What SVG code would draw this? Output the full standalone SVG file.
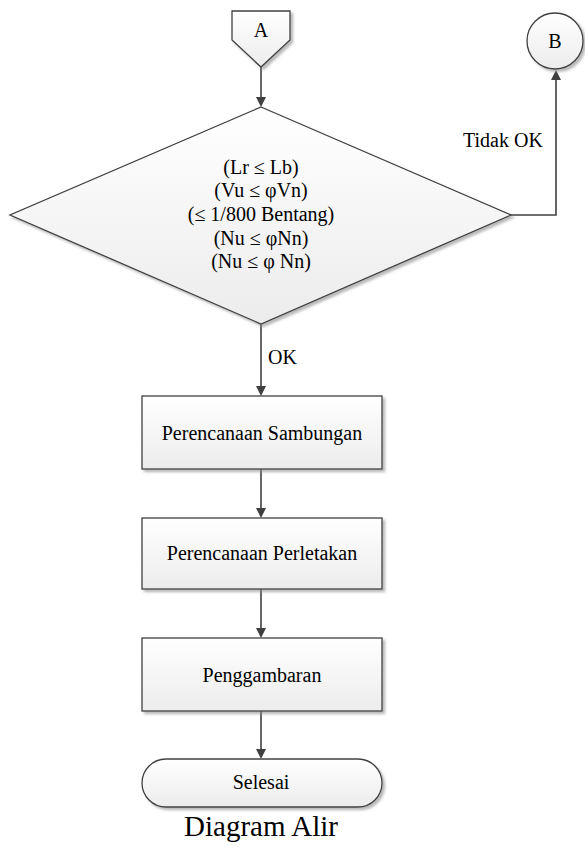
<svg xmlns="http://www.w3.org/2000/svg" width="585" height="848" viewBox="0 0 585 848">
<style>
.shape{fill:url(#g);stroke:#404040;stroke-width:1.3;filter:url(#sh)}
.t{font-size:20px;fill:#000;text-anchor:middle}
.lbl{font-size:20px;fill:#000}
.c{fill:none;stroke:#404040;stroke-width:1.6}
.ah{fill:#404040}
</style>
<defs>
<linearGradient id="g" x1="0" y1="0" x2="0" y2="1">
<stop offset="0" stop-color="#ffffff"/>
<stop offset="1" stop-color="#ececec"/>
</linearGradient>
<filter id="sh" x="-5%" y="-5%" width="115%" height="115%">
<feDropShadow dx="2.5" dy="2.5" stdDeviation="1.2" flood-color="#8c8c8c" flood-opacity="0.6"/>
</filter>
<path id="ad" d="M0,0 L-5,-10 L5,-10 Z"/>
</defs>
<rect width="585" height="848" fill="#ffffff"/>
<g id="connectors">
<line class="c" x1="261" y1="67" x2="261" y2="100"/>
<polyline class="c" points="511,215 556,215 556,78"/>
<line class="c" x1="261" y1="324" x2="261" y2="389"/>
<line class="c" x1="261" y1="469" x2="261" y2="511"/>
<line class="c" x1="261" y1="589" x2="261" y2="631"/>
<line class="c" x1="261" y1="711" x2="261" y2="752"/>
<use href="#ad" class="ah" x="261" y="107"/>
<use href="#ad" class="ah" transform="translate(556,70) rotate(180)"/>
<use href="#ad" class="ah" x="261" y="396"/>
<use href="#ad" class="ah" x="261" y="518"/>
<use href="#ad" class="ah" x="261" y="638"/>
<use href="#ad" class="ah" x="261" y="759"/>
<text class="lbl" x="463" y="147" font-family="Liberation Serif">Tidak OK</text>
<text class="lbl" x="268" y="364" font-family="Liberation Serif">OK</text>
</g>
<g id="nodeA">
<polygon class="shape" points="232,11 290,11 290,40 261,67 232,40"/>
<text class="t" x="261" y="37" font-family="Liberation Serif">A</text>
</g>
<g id="nodeB">
<circle class="shape" cx="555" cy="41" r="28"/>
<text class="t" x="555" y="48" font-family="Liberation Serif">B</text>
</g>
<g id="decision">
<polygon class="shape" points="261,107 511,215 261,324 10,215"/>
<text class="t" x="261" y="174" font-family="Liberation Serif">(Lr ≤  Lb)</text>
<text class="t" x="261" y="197" font-family="Liberation Serif">(Vu ≤ φVn)</text>
<text class="t" x="261" y="221" font-family="Liberation Serif">(≤ 1/800 Bentang)</text>
<text class="t" x="261" y="245" font-family="Liberation Serif">(Nu ≤ φNn)</text>
<text class="t" x="261" y="268" font-family="Liberation Serif">(Nu ≤ φ Nn)</text>
</g>
<g id="sambungan">
<rect class="shape" x="142" y="396" width="240" height="73"/>
<text class="t" x="262" y="440" font-family="Liberation Serif">Perencanaan Sambungan</text>
</g>
<g id="perletakan">
<rect class="shape" x="142" y="518" width="240" height="71"/>
<text class="t" x="262" y="560" font-family="Liberation Serif">Perencanaan Perletakan</text>
</g>
<g id="penggambaran">
<rect class="shape" x="142" y="638" width="240" height="73"/>
<text class="t" x="262" y="682" font-family="Liberation Serif">Penggambaran</text>
</g>
<g id="selesai">
<rect class="shape" x="142" y="759" width="240" height="48" rx="24" ry="24"/>
<text class="t" x="261" y="789" font-family="Liberation Serif">Selesai</text>
</g>
<text x="261" y="836" font-family="Liberation Serif" font-size="29" text-anchor="middle" fill="#000">Diagram Alir</text>
</svg>
